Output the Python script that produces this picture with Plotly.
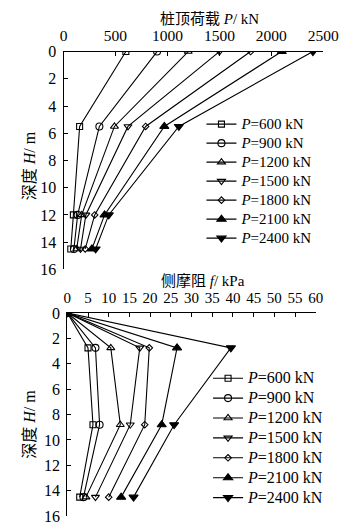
import plotly.graph_objects as go

# Pile-top load distribution along depth
load_depth = [0, 5.5, 12, 14.5]
load_600 = [600, 155, 95, 70]
load_900 = [900, 345, 136, 100]
load_1200 = [1200, 490, 175, 127]
load_1500 = [1500, 620, 215, 164]
load_1800 = [1800, 790, 300, 209]
load_2100 = [2100, 970, 395, 273]
load_2400 = [2400, 1110, 435, 309]

# Side friction along depth
fric_depth = [0, 2.75, 8.8, 14.5]
fric_600 = [0, 5.0, 6.2, 3.0]
fric_900 = [0, 6.8, 7.8, 3.9]
fric_1200 = [0, 10.5, 12.8, 4.5]
fric_1500 = [0, 17.5, 15.2, 6.8]
fric_1800 = [0, 19.8, 18.7, 10.0]
fric_2100 = [0, 26.5, 22.8, 13.0]
fric_2400 = [0, 39.5, 25.8, 16.0]

series_names = ["600", "900", "1200", "1500", "1800", "2100", "2400"]
symbols = ["square-open", "circle-open", "triangle-up-open", "triangle-down-open",
           "diamond-open", "triangle-up", "triangle-down"]
sizes = [6, 7, 7, 7, 5, 8, 8]
load_sets = [load_600, load_900, load_1200, load_1500, load_1800, load_2100, load_2400]
fric_sets = [fric_600, fric_900, fric_1200, fric_1500, fric_1800, fric_2100, fric_2400]

SERIF = "Liberation Serif, Noto Sans CJK SC, serif"


def label(name, px):
    return f'<span style="font-size:{px}px"><i>P</i>={name} kN</span>'


fig = go.Figure()

for name, sym, sz, xs in zip(series_names, symbols, sizes, load_sets):
    fig.add_trace(go.Scatter(
        x=xs, y=load_depth, mode="lines+markers",
        name=label(name, 15),
        line=dict(color="black", width=1.1),
        marker=dict(symbol=sym, size=sz, color="black", line=dict(color="black", width=1.1)),
        xaxis="x", yaxis="y", legend="legend",
    ))

for name, sym, sz, xs in zip(series_names, symbols, sizes, fric_sets):
    fig.add_trace(go.Scatter(
        x=xs, y=fric_depth, mode="lines+markers",
        name=label(name, 16),
        line=dict(color="black", width=1.1),
        marker=dict(symbol=sym, size=sz, color="black", line=dict(color="black", width=1.1)),
        xaxis="x2", yaxis="y2", legend="legend2",
    ))

W, H = 362, 531


def px_x(p):
    return p / W


def px_y(p):
    return 1 - p / H


axis_common = dict(
    showline=True, linecolor="black", linewidth=1.2,
    ticks="inside", ticklen=4, tickcolor="black", tickwidth=1.2,
    showgrid=False, zeroline=False,
    tickfont=dict(family=SERIF, size=16, color="black"),
)

fig.update_layout(
    width=W, height=H,
    margin=dict(l=0, r=0, t=0, b=0),
    paper_bgcolor="white", plot_bgcolor="white",
    xaxis=dict(axis_common, domain=[px_x(63), px_x(338)], range=[0, 2500],
               side="top", anchor="y", ticklabelstandoff=3,
               tickfont=dict(family=SERIF, size=15.5, color="black"),
               tickvals=[0, 500, 1000, 1500, 2000, 2500]),
    yaxis=dict(axis_common, domain=[px_y(270), px_y(45)], range=[16, 0],
               anchor="x", ticklabelstandoff=3, tickvals=list(range(0, 17, 2))),
    xaxis2=dict(axis_common, domain=[px_x(67), px_x(330)], range=[0, 60],
                side="top", anchor="y2", ticklabelstandoff=3,
                tickvals=list(range(0, 61, 5)),
                tickfont=dict(family=SERIF, size=15, color="black")),
    yaxis2=dict(axis_common, domain=[px_y(525), px_y(315)], range=[16, 0],
                anchor="x2", ticklabelstandoff=3, tickvals=list(range(0, 17, 2))),
    legend=dict(x=px_x(209), y=px_y(105), xanchor="left", yanchor="top",
                bgcolor="rgba(0,0,0,0)", itemwidth=30, tracegroupgap=0,
                font=dict(family=SERIF, size=12.3, color="black")),
    legend2=dict(x=px_x(216), y=px_y(367), xanchor="left", yanchor="top",
                 bgcolor="rgba(0,0,0,0)", itemwidth=30, tracegroupgap=0,
                 font=dict(family=SERIF, size=13, color="black")),
    showlegend=True,
)

title_font = dict(family=SERIF, size=15, color="black")
fig.add_annotation(text="桩顶荷载 <i>P</i>/ kN", x=px_x(218), y=px_y(11),
                   xanchor="center", yanchor="middle",
                   xref="paper", yref="paper", showarrow=False, font=title_font)
fig.add_annotation(text="侧摩阻 <i>f</i>/ kPa", x=px_x(211), y=px_y(282),
                   xanchor="center", yanchor="middle",
                   xref="paper", yref="paper", showarrow=False, font=title_font)
fig.add_annotation(text="深度 <i>H</i>/ m", x=px_x(27), y=px_y(163), textangle=-90,
                   xanchor="center", yanchor="middle",
                   xref="paper", yref="paper", showarrow=False,
                   font=dict(family=SERIF, size=16, color="black"))
fig.add_annotation(text="深度 <i>H</i>/ m", x=px_x(27), y=px_y(430), textangle=-90,
                   xanchor="center", yanchor="middle",
                   xref="paper", yref="paper", showarrow=False,
                   font=dict(family=SERIF, size=16, color="black"))

fig.write_html("out.html")
